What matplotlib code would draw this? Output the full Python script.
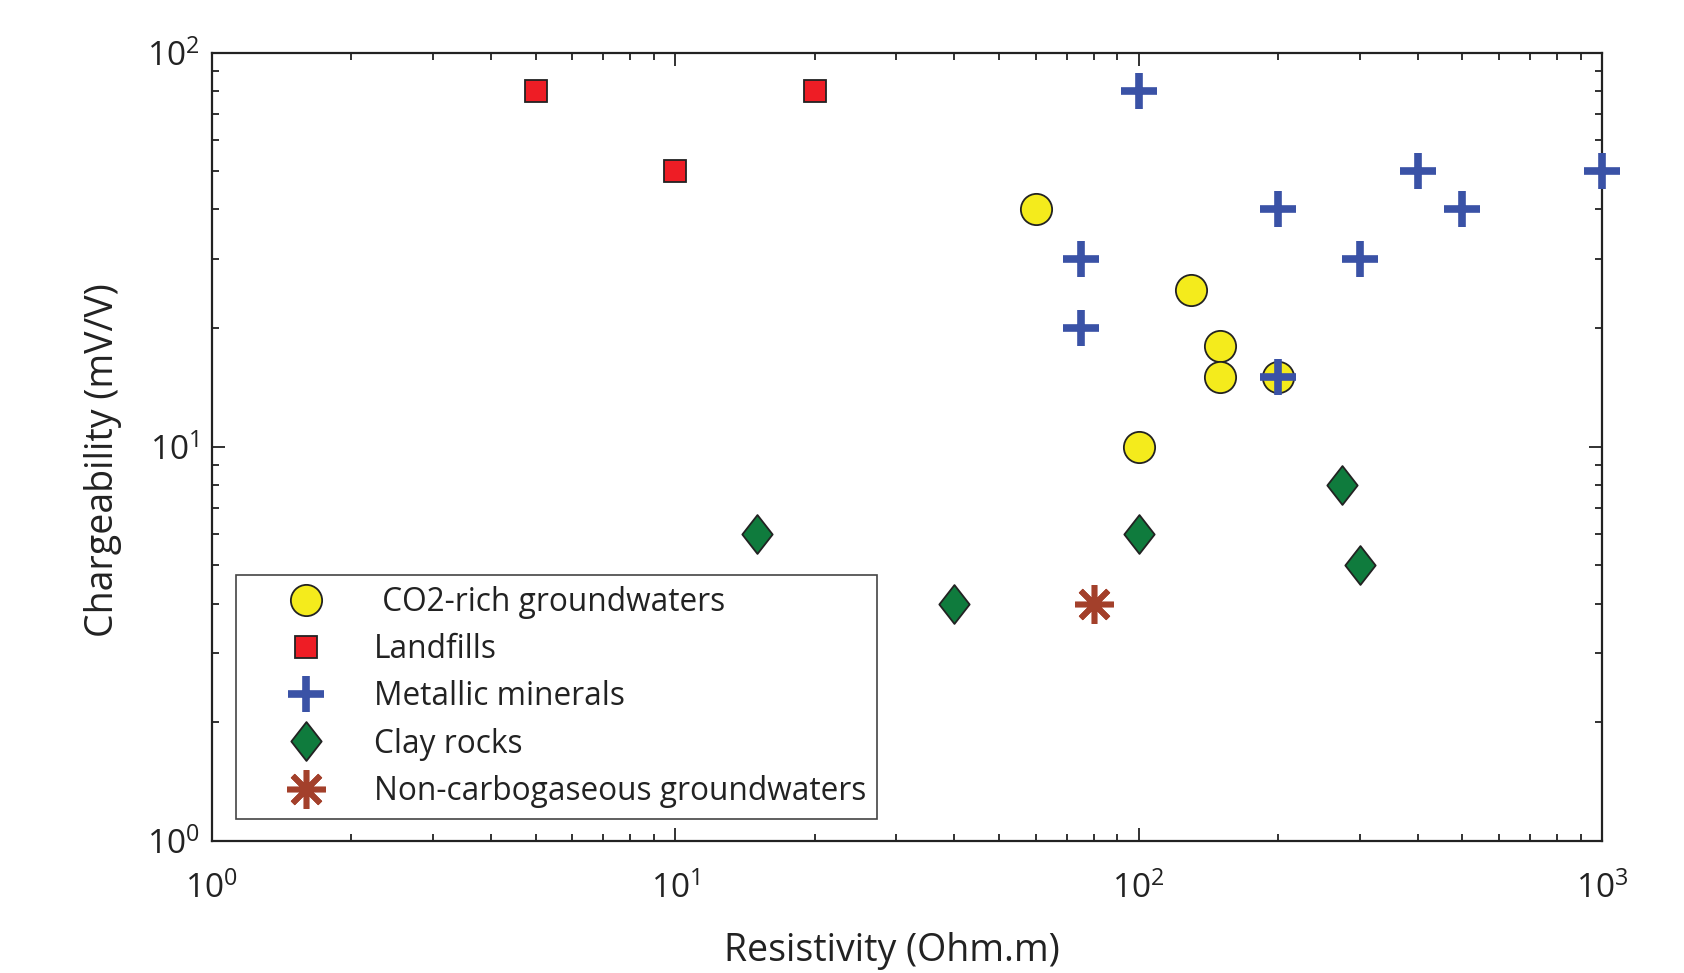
import matplotlib
matplotlib.use('Agg')
import matplotlib.pyplot as plt
from matplotlib.path import Path
from matplotlib.ticker import LogLocator, NullFormatter, FixedFormatter, FixedLocator

plt.rcParams['font.family'] = ['Open Sans', 'DejaVu Sans']
plt.rcParams['mathtext.fontset'] = 'custom'
plt.rcParams['mathtext.rm'] = 'Open Sans'
plt.rcParams['mathtext.it'] = 'Open Sans:italic'
plt.rcParams['mathtext.bf'] = 'Open Sans:bold'

# data
co2_res = [60, 130, 150, 150, 200, 100]
co2_chg = [40, 25, 18, 15, 15, 10]

landfill_res = [5, 10, 20]
landfill_chg = [80, 50, 80]

metal_res = [100, 75, 75, 200, 200, 300, 400, 500, 1000]
metal_chg = [80, 30, 20, 40, 15, 30, 50, 40, 50]

clay_res = [15, 40, 100, 275, 300]
clay_chg = [6, 4, 6, 8, 5]

nonco2_res = [80]
nonco2_chg = [4]

decade_labels = [r'$\mathregular{10^{0}}$', r'$\mathregular{10^{1}}$',
                 r'$\mathregular{10^{2}}$', r'$\mathregular{10^{3}}$']

diamond = Path([(0, 1), (0.78, 0), (0, -1), (-0.78, 0), (0, 1)],
               [Path.MOVETO, Path.LINETO, Path.LINETO, Path.LINETO, Path.CLOSEPOLY])

fig = plt.figure(figsize=(16.84, 9.73), dpi=100)
ax = fig.add_axes([0.1257, 0.1357, 0.8256, 0.8103])

ax.plot(co2_res, co2_chg, linestyle='none', marker='o', markersize=22.5,
        markerfacecolor='#f4eb1c', markeredgecolor='#222222', markeredgewidth=1.3,
        label=' CO2-rich groundwaters', zorder=3, clip_on=False)
ax.plot(landfill_res, landfill_chg, linestyle='none', marker='s', markersize=15.5,
        markerfacecolor='#ee1d25', markeredgecolor='#222222', markeredgewidth=1.3,
        label='Landfills', zorder=3, clip_on=False)
ax.plot(metal_res, metal_chg, linestyle='none', marker='+', markersize=26,
        markeredgecolor='#3a52a6', markeredgewidth=5.5,
        label='Metallic minerals', zorder=4, clip_on=False)
ax.plot(clay_res, clay_chg, linestyle='none', marker=diamond, markersize=28,
        markerfacecolor='#0f7b3d', markeredgecolor='#222222', markeredgewidth=1.3,
        label='Clay rocks', zorder=3, clip_on=False)
ax.plot(nonco2_res, nonco2_chg, linestyle='none', marker=(8, 2, 0), markersize=28,
        markeredgecolor='#a3402b', markeredgewidth=4,
        label='Non-carbogaseous groundwaters', zorder=3, clip_on=False)

ax.set_xscale('log')
ax.set_yscale('log')
ax.set_xlim(1, 1000)
ax.set_ylim(1, 100)

ax.xaxis.set_major_locator(FixedLocator([1, 10, 100, 1000]))
ax.xaxis.set_major_formatter(FixedFormatter(decade_labels))
ax.yaxis.set_major_locator(FixedLocator([1, 10, 100]))
ax.yaxis.set_major_formatter(FixedFormatter(decade_labels[:3]))
for axis in [ax.xaxis, ax.yaxis]:
    axis.set_minor_locator(LogLocator(base=10, subs=range(2, 10)))
    axis.set_minor_formatter(NullFormatter())

ax.tick_params(which='both', direction='in', top=True, right=True,
               colors='#222222', labelsize=24)
ax.tick_params(which='major', length=9.5, width=1.3)
ax.tick_params(which='minor', length=5, width=1.3)
ax.tick_params(axis='x', which='major', pad=22)
ax.tick_params(axis='y', which='major', pad=9)
for side in ['top', 'bottom', 'left', 'right']:
    ax.spines[side].set_linewidth(1.6)
    ax.spines[side].set_color('#222222')

ax.set_xlabel('Resistivity (Ohm.m)', fontsize=27, color='#222222')
ax.set_ylabel('Chargeability (mV/V)', fontsize=27, color='#222222')
ax.xaxis.set_label_coords(0.4893, -0.116)
ax.yaxis.set_label_coords(-0.0644, 0.483)

leg = ax.legend(loc='lower left', bbox_to_anchor=(0.0175, 0.028), borderaxespad=0,
                fontsize=22.8, frameon=True, fancybox=False, framealpha=1,
                edgecolor='#444444', handlelength=3.7, handletextpad=0.3,
                labelspacing=0.45, borderpad=0.35, numpoints=1)
leg.get_frame().set_linewidth(1.2)
for t in leg.get_texts():
    t.set_color('#222222')

plt.savefig('out.png', dpi=100)
